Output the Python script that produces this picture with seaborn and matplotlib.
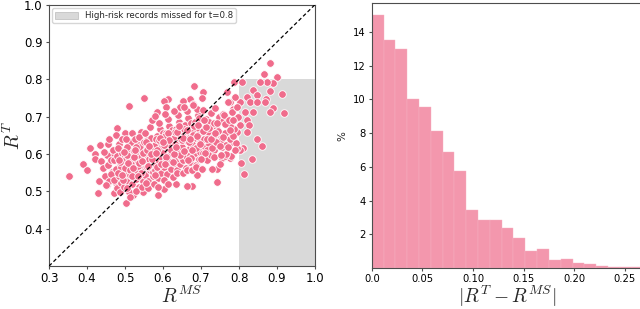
import matplotlib
matplotlib.use("Agg")
import matplotlib.pyplot as plt
import seaborn as sns
import numpy as np
import pandas as pd
from matplotlib.patches import Patch

# ---------------- data ----------------
# outer / sparse points
rms_outer = [0.882,0.867,0.899,0.890,0.873,0.855,0.809,0.788,0.768,0.838,0.847,0.882,0.914,0.870,0.820,
             0.829,0.847,0.868,0.890,0.918,0.882,0.838,0.803,0.816,0.785,0.776,0.789,0.789,0.820,0.825,
             0.803,0.794,0.776,0.820,0.847,0.860,0.811,0.803,0.794,0.781,0.776,0.754,0.706,0.682,0.703,
             0.671,0.652,0.679,0.614,0.603,0.607,0.551,0.511,0.575,0.584,0.644,0.480,0.500,0.408,0.434,
             0.456,0.421,0.465,0.483,0.353,0.390,0.399,0.421,0.432,0.428,0.436,0.452,0.470,0.476,0.503,
             0.522,0.548,0.586,0.603,0.634,0.676,0.663,0.741,0.741,0.728,0.689,0.780,0.804,0.813,0.833,0.763]
rt_outer = [0.843,0.814,0.805,0.790,0.792,0.792,0.792,0.794,0.765,0.772,0.757,0.770,0.761,0.747,0.752,
            0.739,0.739,0.739,0.723,0.710,0.712,0.712,0.739,0.712,0.721,0.739,0.752,0.694,0.690,0.677,
            0.677,0.659,0.659,0.659,0.641,0.622,0.615,0.612,0.615,0.633,0.588,0.588,0.767,0.783,0.751,
            0.747,0.741,0.733,0.747,0.743,0.725,0.750,0.728,0.694,0.712,0.725,0.670,0.655,0.617,0.623,
            0.626,0.601,0.604,0.613,0.540,0.572,0.556,0.587,0.528,0.496,0.580,0.518,0.496,0.522,0.469,
            0.490,0.498,0.489,0.506,0.520,0.514,0.514,0.526,0.561,0.561,0.543,0.596,0.575,0.547,0.586,0.594]

# dense core points
rms_core = [0.441,0.447,0.452,0.455,0.458,0.462,0.466,0.468,0.444,0.450,0.459,0.463,0.470,0.472,
            0.475,0.478,0.480,0.483,0.485,0.487,0.490,0.492,0.494,0.496,0.498,0.476,0.481,0.486,0.489,0.493,0.497,0.499,
            0.501,0.503,0.505,0.507,0.509,0.511,0.513,0.515,0.517,0.519,0.521,0.523,0.502,0.506,0.510,0.514,0.518,0.522,0.504,0.512,0.520,0.524,
            0.526,0.528,0.530,0.532,0.534,0.536,0.538,0.540,0.542,0.544,0.546,0.548,0.527,0.531,0.535,0.539,0.543,0.547,0.529,0.537,0.545,0.549,
            0.551,0.553,0.555,0.557,0.559,0.561,0.563,0.565,0.567,0.569,0.571,0.573,0.552,0.556,0.560,0.564,0.568,0.572,0.554,0.562,0.570,0.574,
            0.576,0.578,0.580,0.582,0.584,0.586,0.588,0.590,0.592,0.594,0.596,0.598,0.577,0.581,0.585,0.589,0.593,0.597,0.579,0.587,0.595,0.599,
            0.601,0.603,0.605,0.607,0.609,0.611,0.613,0.615,0.617,0.619,0.621,0.623,0.602,0.606,0.610,0.614,0.618,0.622,0.604,0.612,0.620,0.624,
            0.626,0.628,0.630,0.632,0.634,0.636,0.638,0.640,0.642,0.644,0.646,0.648,0.627,0.631,0.635,0.639,0.643,0.647,0.629,0.637,0.645,0.649,
            0.651,0.653,0.655,0.657,0.659,0.661,0.663,0.665,0.667,0.669,0.671,0.673,0.652,0.656,0.660,0.664,0.668,0.672,0.654,0.662,0.670,0.674,
            0.676,0.678,0.680,0.682,0.684,0.686,0.688,0.690,0.692,0.694,0.696,0.698,0.677,0.681,0.685,0.689,0.693,0.697,0.679,0.687,0.695,
            0.701,0.704,0.707,0.710,0.713,0.716,0.719,0.722,0.725,0.728,0.703,0.709,0.715,0.721,0.727,0.706,0.718,
            0.731,0.735,0.739,0.743,0.747,0.751,0.755,0.759,0.733,0.741,0.749,0.757,0.737,0.753,
            0.762,0.767,0.772,0.777,0.782,0.787,0.792,0.797,0.765,0.775,0.785,0.795,0.770,0.790]
rt_core = [0.562,0.540,0.598,0.571,0.528,0.585,0.553,0.612,0.605,0.517,0.640,0.546,0.583,0.530,
           0.561,0.508,0.594,0.541,0.627,0.572,0.523,0.603,0.556,0.584,0.538,0.650,0.615,0.497,0.566,0.641,0.512,0.596,
           0.551,0.586,0.529,0.613,0.566,0.498,0.545,0.632,0.578,0.520,0.601,0.559,0.641,0.508,0.590,0.570,0.655,0.538,0.620,0.485,0.583,0.607,
           0.572,0.534,0.598,0.555,0.624,0.511,0.587,0.545,0.660,0.566,0.608,0.528,0.640,0.583,0.567,0.619,0.592,0.553,0.502,0.646,0.513,0.631,
           0.580,0.545,0.612,0.566,0.637,0.528,0.596,0.558,0.673,0.621,0.575,0.540,0.655,0.599,0.510,0.586,0.644,0.608,0.523,0.565,0.692,0.553,
           0.590,0.556,0.624,0.571,0.648,0.537,0.607,0.582,0.667,0.629,0.549,0.598,0.521,0.640,0.565,0.684,0.613,0.573,0.701,0.512,0.592,0.655,
           0.603,0.566,0.634,0.585,0.655,0.547,0.616,0.594,0.676,0.638,0.561,0.609,0.530,0.648,0.577,0.695,0.624,0.583,0.706,0.520,0.601,0.665,
           0.612,0.575,0.643,0.593,0.666,0.556,0.627,0.602,0.686,0.650,0.572,0.617,0.538,0.658,0.586,0.704,0.633,0.591,0.715,0.548,0.611,0.674,
           0.620,0.583,0.651,0.601,0.677,0.562,0.636,0.610,0.697,0.660,0.579,0.626,0.548,0.668,0.594,0.714,0.642,0.598,0.726,0.556,0.617,0.684,
           0.628,0.591,0.659,0.609,0.686,0.570,0.644,0.618,0.704,0.668,0.587,0.634,0.556,0.676,0.602,0.720,0.651,0.606,0.730,0.565,0.697,
           0.637,0.602,0.668,0.620,0.694,0.583,0.652,0.626,0.711,0.673,0.560,0.640,0.612,0.686,0.598,0.719,0.660,
           0.645,0.610,0.676,0.628,0.700,0.650,0.618,0.688,0.593,0.660,0.574,0.708,0.722,0.637,
           0.655,0.624,0.690,0.640,0.712,0.668,0.630,0.700,0.600,0.676,0.648,0.725,0.738,0.612]

# extra points filling the densest band
rms_band = [0.482,0.488,0.495,0.500,0.506,0.512,0.518,0.524,0.530,0.536,0.542,0.548,0.554,0.560,0.566,0.572,0.578,
            0.584,0.590,0.596,0.602,0.608,0.614,0.620,0.626,0.632,0.638,0.644,0.650,0.656,0.662,0.668,0.674,0.680,
            0.686,0.692,0.698,0.704,0.710,0.716,0.722,0.728,0.734,0.740,0.746,0.752,0.758,0.764,0.770,0.776,
            0.485,0.497,0.509,0.521,0.533,0.545,0.557,0.569,0.581,0.593,0.605,0.617,0.629,0.641,0.653,0.665,0.677,
            0.689,0.701,0.713,0.725,0.737,0.749,0.761,0.773,0.785,0.491,0.527,0.563,0.599,0.635,0.671,0.707,0.743]
rt_band = [0.548,0.579,0.531,0.563,0.597,0.557,0.541,0.593,0.618,0.575,0.548,0.604,0.631,0.569,0.614,0.586,0.545,
           0.611,0.638,0.573,0.623,0.591,0.656,0.612,0.579,0.628,0.660,0.597,0.638,0.607,0.664,0.631,0.590,0.652,
           0.617,0.679,0.626,0.661,0.603,0.640,0.670,0.615,0.684,0.633,0.661,0.598,0.645,0.681,0.620,0.663,
           0.583,0.605,0.577,0.562,0.540,0.582,0.611,0.600,0.604,0.642,0.573,0.637,0.601,0.674,0.642,0.585,0.612,
           0.648,0.586,0.672,0.640,0.655,0.622,0.705,0.690,0.690,0.545,0.610,0.621,0.632,0.618,0.640,0.690,0.683]

threshold = 0.8
legend_label = "High-risk records missed for t=0.8"

# histogram of |R^T - R^MS| (percent per bin)
bin_width = 0.01167
hist_pct = [15.0, 13.5, 13.0, 10.0, 9.55, 8.15, 6.85, 5.75, 3.45, 2.85, 2.85, 2.35,
            1.75, 1.0, 1.15, 0.45, 0.52, 0.32, 0.24, 0.10, 0.05, 0.05, 0.03]

# ---------------- style ----------------
sns.set_style("ticks")
plt.rcParams['font.family'] = ['DejaVu Sans']
plt.rcParams['axes.edgecolor'] = '0.3'
plt.rcParams['xtick.color'] = '0.3'
plt.rcParams['ytick.color'] = '0.3'
plt.rcParams['xtick.labelcolor'] = 'black'
plt.rcParams['ytick.labelcolor'] = 'black'
plt.rcParams['mathtext.fontset'] = 'cm'

pink = '#f06c8c'
pink_hist = '#f397ad'

fig = plt.figure(figsize=(6.4, 3.09), dpi=100)
ax1 = fig.add_axes([0.0766, 0.139, 0.4156, 0.846])
ax2 = fig.add_axes([0.581, 0.133, 0.422, 0.856])

# ---------------- left: scatter ----------------
df = pd.DataFrame({"rms": rms_outer + rms_core + rms_band,
                   "rt": rt_outer + rt_core + rt_band})
ax1.fill_between([threshold, 1.0], 0.3, threshold, color='#d9d9d9', lw=0, zorder=0)
sns.scatterplot(data=df, x="rms", y="rt", ax=ax1, color=pink, s=30,
                edgecolor='white', linewidth=0.6, zorder=2, legend=False)
ax1.plot([0.3, 1.0], [0.3, 1.0], ls='--', color='black', lw=0.9, dashes=(3, 2), zorder=3)
ax1.set_xlim(0.3, 1.0)
ax1.set_ylim(0.3, 1.0)
ax1.set_xticks([0.3, 0.4, 0.5, 0.6, 0.7, 0.8, 0.9, 1.0])
ax1.set_yticks([0.4, 0.5, 0.6, 0.7, 0.8, 0.9, 1.0])
ax1.tick_params(labelsize=8.5, length=2.5, width=0.8, pad=2)
ax1.set_xlabel(r'$R^{MS}$', fontsize=14, labelpad=0)
ax1.set_ylabel(r'$R^{T}$', fontsize=14, labelpad=0)
handles = [Patch(facecolor='#d9d9d9', edgecolor='#bbbbbb', lw=0.5)]
ax1.legend(handles, [legend_label], loc='upper left', fontsize=6.2, frameon=True,
           handlelength=2.6, handleheight=0.9, borderpad=0.35, borderaxespad=0.4,
           fancybox=True, edgecolor='#cccccc')

# ---------------- right: histogram ----------------
edges = [i * bin_width for i in range(len(hist_pct) + 1)]
centers = [(edges[i] + edges[i + 1]) / 2 for i in range(len(hist_pct))]
sns.histplot(x=centers, weights=hist_pct, bins=edges, ax=ax2, color=pink_hist,
             alpha=1.0, edgecolor='#f6b3c3', linewidth=0.3)
ax2.set_xlim(0, 0.267)
ax2.set_ylim(0, 15.7)
ax2.set_xticks([0.0, 0.05, 0.10, 0.15, 0.20, 0.25])
ax2.set_xticklabels(["0.0", "0.05", "0.10", "0.15", "0.20", "0.25"])
ax2.set_yticks([2, 4, 6, 8, 10, 12, 14])
ax2.tick_params(labelsize=7.2, length=2.5, width=0.8, pad=2)
ax2.set_xlabel(r'$|R^{T}-R^{MS}|$', fontsize=14, labelpad=0)
ax2.set_ylabel('%', fontsize=7.5, labelpad=4)

fig.savefig("out.png", dpi=100)
